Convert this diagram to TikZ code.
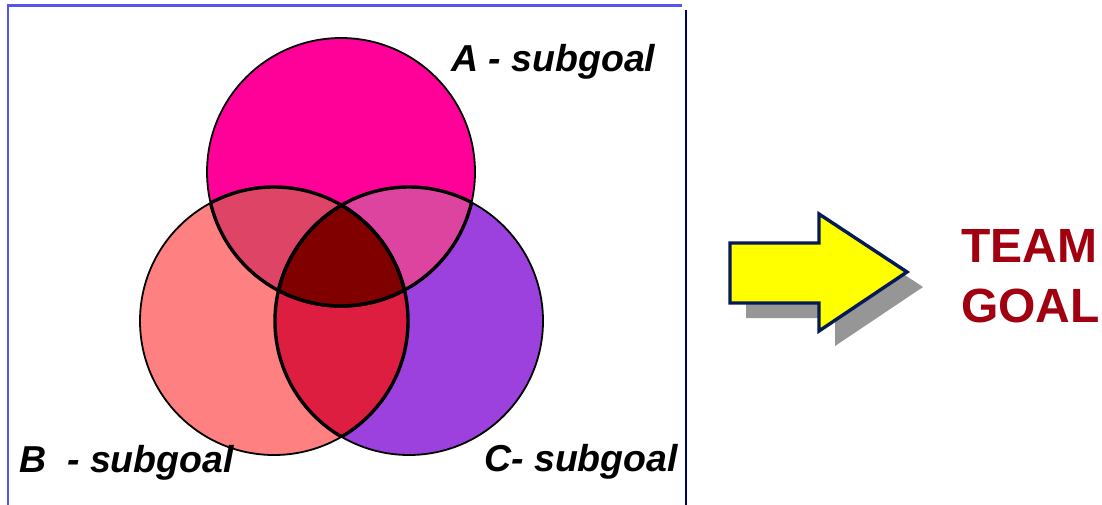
\documentclass[tikz,border=0pt]{standalone}
\usepackage{fontspec}
\setmainfont{Liberation Sans}
\definecolor{cA}{HTML}{FF0099}
\definecolor{cB}{HTML}{FF8080}
\definecolor{cC}{HTML}{9C40DE}
\definecolor{cAB}{HTML}{DD4466}
\definecolor{cAC}{HTML}{DD44A0}
\definecolor{cBC}{HTML}{DD1E40}
\definecolor{cABC}{HTML}{800000}
\definecolor{frameblue}{HTML}{5555EE}
\definecolor{framenavy}{HTML}{000066}
\definecolor{arrowline}{HTML}{061A55}
\definecolor{arrowfill}{HTML}{FFFF00}
\definecolor{shadowgray}{HTML}{969696}
\definecolor{goalred}{HTML}{A00010}
\tikzset{
  outline/.style={draw=black, line width=1.8pt},
  innerline/.style={draw=black, line width=3.4pt},
  sublabel/.style={inner sep=0pt, anchor=base west, font=\fontsize{37.5}{44}\selectfont\bfseries\itshape},
  goallabel/.style={inner sep=0pt, anchor=base west, text=goalred, font=\fontsize{48}{60}\selectfont\bfseries},
}
\begin{document}
\begin{tikzpicture}[x=1pt,y=-1pt]
\useasboundingbox (0,0) rectangle (1102,505);
\fill[white] (0,0) rectangle (1102,505);
% frame
\coordinate (fbl) at (8,505);
\coordinate (ftl) at (8,5.5);
\coordinate (ftr) at (682,5.5);
\coordinate (frt) at (686,10);
\coordinate (frb) at (686,505);
\draw[frameblue, line width=2.2pt] (fbl) -- (ftl) -- (ftr);
\draw[framenavy, line width=2.2pt] (frt) -- (frb);
% circle centres
\coordinate (A) at (341,172);
\coordinate (B) at (274,321);
\coordinate (C) at (409,321);
\def\R{134}
% fills
\fill[cA] (A) circle (\R);
\fill[cB] (B) circle (\R);
\fill[cC] (C) circle (\R);
\begin{scope}\clip (A) circle (\R); \fill[cAB] (B) circle (\R); \fill[cAC] (C) circle (\R); \end{scope}
\begin{scope}\clip (B) circle (\R); \fill[cBC] (C) circle (\R); \end{scope}
\begin{scope}\clip (A) circle (\R); \clip (B) circle (\R); \fill[cABC] (C) circle (\R); \end{scope}
% outlines
\draw[outline] (A) circle (\R);
\draw[outline] (B) circle (\R);
\draw[outline] (C) circle (\R);
\begin{scope}\clip (A) circle (\R); \draw[innerline] (B) circle (\R); \draw[innerline] (C) circle (\R); \end{scope}
\begin{scope}\clip (B) circle (\R); \draw[innerline] (A) circle (\R); \draw[innerline] (C) circle (\R); \end{scope}
\begin{scope}\clip (C) circle (\R); \draw[innerline] (A) circle (\R); \draw[innerline] (B) circle (\R); \end{scope}
% labels
\node[sublabel] (la) at (451,72) {A - subgoal};
\node[sublabel] (lb) at (19,472) {B\ \ - subgoal};
\node[sublabel] (lc) at (484,471) {C- subgoal};
% arrow
\coordinate (a1) at (730,243);
\coordinate (a2) at (819,243);
\coordinate (a3) at (819,214);
\coordinate (a4) at (907,272);
\coordinate (a5) at (819,331);
\coordinate (a6) at (819,303);
\coordinate (a7) at (730,303);
\fill[shadowgray] ([shift={(16,15)}]a1) -- ([shift={(16,15)}]a2) -- ([shift={(16,15)}]a3) -- ([shift={(16,15)}]a4) -- ([shift={(16,15)}]a5) -- ([shift={(16,15)}]a6) -- ([shift={(16,15)}]a7) -- cycle;
\filldraw[fill=arrowfill, draw=arrowline, line width=3.4pt, line join=miter] (a1) -- (a2) -- (a3) -- (a4) -- (a5) -- (a6) -- (a7) -- cycle;
% goal text
\node[goallabel] (team) at (961,262) {TEAM};
\node[goallabel] (goal) at (961,322) {GOAL};
\end{tikzpicture}
\end{document}
